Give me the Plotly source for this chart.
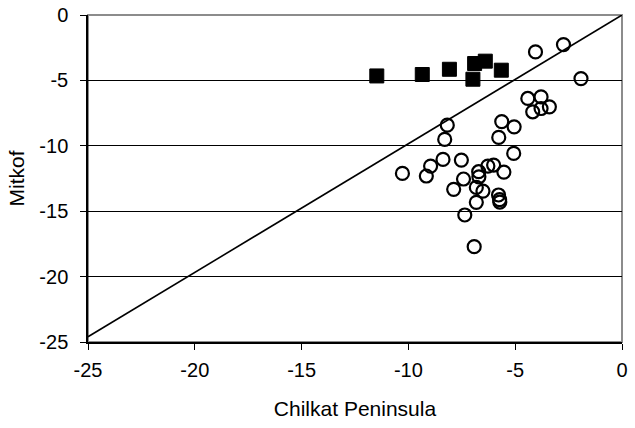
import plotly.graph_objects as go

# Filled squares series
sq_x = [-11.48, -9.35, -8.08, -6.90, -6.40, -5.65, -6.98]
sq_y = [-4.66, -4.55, -4.15, -3.71, -3.53, -4.22, -4.91]

# Open circles series
circ_x = [-4.05, -2.74, -1.92, -4.41, -3.79, -4.18, -3.79, -3.40, -5.63, -5.05,
          -8.18, -8.30, -5.77, -5.07, -8.38, -7.52, -8.96, -10.28, -9.16, -7.42,
          -7.88, -6.71, -6.70, -6.28, -6.01, -5.53, -6.82, -6.51, -6.82, -5.78,
          -5.73, -5.72, -7.36, -6.92]
circ_y = [-2.82, -2.26, -4.86, -6.38, -6.26, -7.40, -7.15, -7.02, -8.15, -8.55,
          -8.42, -9.51, -9.36, -10.58, -11.04, -11.09, -11.55, -12.11, -12.31, -12.54,
          -13.33, -11.98, -12.37, -11.55, -11.47, -12.01, -13.18, -13.46, -14.32, -13.76,
          -14.12, -14.30, -15.29, -17.71]

# Reference line
line_x = [-25, 0]
line_y = [-24.6, 0]

x_ticks = [-25, -20, -15, -10, -5, 0]
x_tick_text = ["-25", "-20", "-15", "-10", "-5", "0"]
y_ticks = [-25, -20, -15, -10, -5, 0]
y_tick_text = ["-25", "-20", "-15", "-10", "-5", "0"]

tick_font = dict(family="Liberation Sans, Arial, sans-serif", size=20, color="black")
title_font = dict(family="Liberation Sans, Arial, sans-serif", size=21, color="black")

fig = go.Figure()
fig.add_trace(go.Scatter(x=line_x, y=line_y, mode="lines",
                         line=dict(color="black", width=1.6), showlegend=False))
fig.add_trace(go.Scatter(x=circ_x, y=circ_y, mode="markers",
                         marker=dict(symbol="circle-open", size=13, color="black",
                                     line=dict(width=2.2, color="black")),
                         showlegend=False, cliponaxis=False))
fig.add_trace(go.Scatter(x=sq_x, y=sq_y, mode="markers",
                         marker=dict(symbol="square", size=14, color="black",
                                     line=dict(width=1, color="black")),
                         showlegend=False, cliponaxis=False))

fig.update_layout(
    width=635, height=428,
    margin=dict(l=88, r=13, t=15, b=86, autoexpand=False),
    paper_bgcolor="white", plot_bgcolor="white",
    font=tick_font,
    shapes=[dict(type="rect", xref="paper", yref="paper", x0=0, x1=1, y0=0, y1=1,
                 line=dict(color="#8c8c8c", width=2), layer="below")],
)
fig.update_xaxes(range=[-25, 0], tickvals=x_ticks, ticktext=x_tick_text,
                 ticks="outside", ticklen=6, automargin=False, ticklabelstandoff=3,
                 tickcolor="black", showline=True, linecolor="black", linewidth=1.5,
                 showgrid=False, zeroline=False,
                 title=dict(text="Chilkat Peninsula", font=title_font, standoff=22),
                 tickfont=tick_font)
fig.update_yaxes(range=[-25, 0], tickvals=y_ticks, ticktext=y_tick_text,
                 ticks="outside", ticklen=6, automargin=False, ticklabelstandoff=8,
                 tickcolor="black", showline=True, linecolor="black", linewidth=1.5,
                 showgrid=True, gridcolor="black", gridwidth=1, zeroline=False,
                 title=dict(text="Mitkof", font=title_font, standoff=9),
                 tickfont=tick_font)

fig.write_html("out.html",
               config={"displayModeBar": False},
               post_script="document.body.style.margin='0';document.body.style.overflow='hidden';")
